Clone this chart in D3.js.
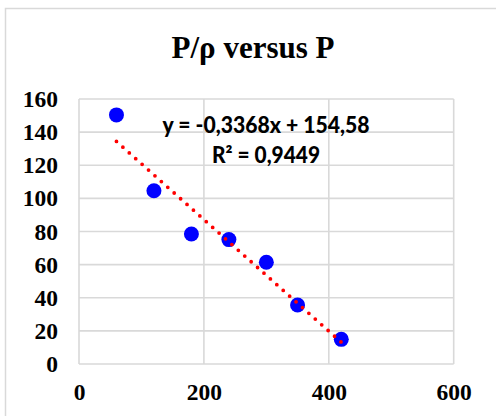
<!DOCTYPE html>
<html>
<head>
<meta charset="utf-8">
<script src="https://cdn.jsdelivr.net/npm/d3@7"></script>
<style>
  html, body { margin: 0; padding: 0; background: #fff; }
  svg { display: block; }
</style>
</head>
<body>
<script>
// Pressure P and the ratio P/ρ for each measurement
const pressure = [60, 120, 180, 240, 300, 350, 420];
const ratio = [150.4, 104.6, 78.5, 75.1, 61.4, 35.6, 14.9];

// Linear trendline coefficients and the labels shown for it
const slope = -0.3368;
const intercept = 154.58;
const equationLabel = "y = -0,3368x + 154,58";
const r2Label = "R² = 0,9449";

// Axis ticks
const xTicks = [0, 200, 400, 600];
const yTicks = [0, 20, 40, 60, 80, 100, 120, 140, 160];

const titleText = "P/ρ versus P";

const W = 496, H = 416;
const plot = { left: 79, right: 453.7, top: 99, bottom: 364 };

const svg = d3.select("body").append("svg")
  .attr("width", W).attr("height", H);

// chart frame
svg.append("rect")
  .attr("x", 5.5).attr("y", 8.5)
  .attr("width", W + 10).attr("height", H + 10)
  .attr("fill", "#fff")
  .attr("stroke", "#d9d9d9").attr("stroke-width", 1.5);

const x = d3.scaleLinear().domain([0, 600]).range([plot.left, plot.right]);
const y = d3.scaleLinear().domain([0, 160]).range([plot.bottom, plot.top]);

// gridlines
const grid = svg.append("g").attr("stroke", "#d9d9d9").attr("stroke-width", 1.6);
grid.selectAll("line.h").data(yTicks).join("line")
  .attr("x1", x(0)).attr("x2", x(600))
  .attr("y1", d => y(d)).attr("y2", d => y(d));
grid.selectAll("line.v").data(xTicks).join("line")
  .attr("y1", y(0)).attr("y2", y(160))
  .attr("x1", d => x(d)).attr("x2", d => x(d));

// axes (labels only; lines come from the grid)
const yAxis = d3.axisLeft(y).tickValues(yTicks).tickSize(0).tickPadding(21);
const xAxis = d3.axisBottom(x).tickValues(xTicks).tickSize(0).tickPadding(19);

const gy = svg.append("g").attr("transform", `translate(${plot.left},0)`).call(yAxis);
const gx = svg.append("g").attr("transform", `translate(0,${plot.bottom})`).call(xAxis);
[gx, gy].forEach(g => {
  g.select(".domain").remove();
  g.selectAll("text")
    .attr("fill", "#000")
    .style("font-family", "'Liberation Serif', 'Times New Roman', serif")
    .style("font-weight", "bold")
    .style("font-size", "23.5px");
});

// data points
svg.append("g").selectAll("circle").data(pressure).join("circle")
  .attr("cx", d => x(d))
  .attr("cy", (d, i) => y(ratio[i]))
  .attr("r", 7.5)
  .attr("fill", "#0000ff");

// dotted linear trendline over the data range
const xMin = d3.min(pressure), xMax = d3.max(pressure);
const trend = [xMin, xMax].map(p => [p, slope * p + intercept]);
svg.append("path")
  .datum(trend)
  .attr("d", d3.line().x(d => x(d[0])).y(d => y(d[1])))
  .attr("fill", "none")
  .attr("stroke", "#ff0000")
  .attr("stroke-width", 3.8)
  .attr("stroke-linecap", "round")
  .attr("stroke-dasharray", "0 8.6");

// trendline equation
const eq = svg.append("g")
  .style("font-family", "Lato, 'Open Sans', sans-serif")
  .style("font-weight", "900")
  .style("font-size", "22px")
  .attr("fill", "#000")
  .attr("text-anchor", "middle");
eq.append("text").attr("x", 266).attr("y", 133.3)
  .attr("textLength", 207).attr("lengthAdjust", "spacingAndGlyphs")
  .text(equationLabel);
eq.append("text").attr("x", 266).attr("y", 163.3)
  .attr("textLength", 108).attr("lengthAdjust", "spacingAndGlyphs")
  .text(r2Label);

// title
svg.append("text")
  .attr("x", 253).attr("y", 58.3)
  .attr("text-anchor", "middle")
  .style("font-family", "'Liberation Serif', 'Times New Roman', serif")
  .style("font-weight", "bold")
  .style("font-size", "31px")
  .attr("fill", "#000")
  .text(titleText);
</script>
</body>
</html>
